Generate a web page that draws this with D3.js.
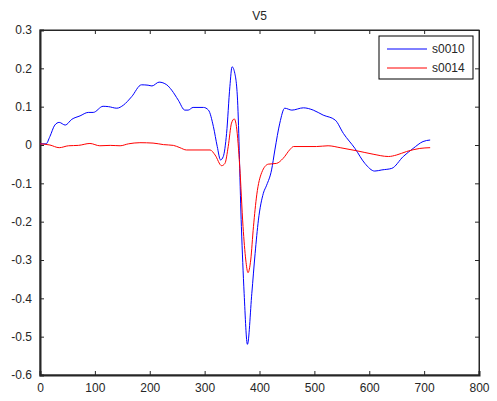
<!DOCTYPE html>
<html>
<head>
<meta charset="utf-8">
<script src="https://cdn.jsdelivr.net/npm/d3@7"></script>
<style>
  body { margin: 0; background: #fff; }
  text { font-family: "Liberation Sans", Arial, sans-serif; font-size: 12px; fill: #262626; }
</style>
</head>
<body>
<script>
// V5 lead, two records
var title = "V5";
var seriesNames = ["s0010", "s0014"];
var seriesColors = ["#0000ff", "#ff0000"];

var xTicks = [0, 100, 200, 300, 400, 500, 600, 700, 800];
var yTicks = [-0.6, -0.5, -0.4, -0.3, -0.2, -0.1, 0, 0.1, 0.2, 0.3];
var yTickLabels = ["-0.6", "-0.5", "-0.4", "-0.3", "-0.2", "-0.1", "0", "0.1", "0.2", "0.3"];

var s0010X = [0, 11, 18, 27, 35, 46, 58, 73, 88, 97, 115, 125, 140, 152, 167, 185, 197, 204, 217, 231,
  240, 252, 264, 270, 279, 298, 307, 316, 323, 329, 334, 340, 346, 350, 355, 360, 367, 372, 378,
  386, 392, 398, 407, 413, 422, 428, 437, 446, 459, 480, 498, 516, 538, 553, 574, 592, 610, 623,
  641, 662, 680, 698, 711];
var s0010Y = [0.003, 0.003, 0.022, 0.052, 0.059, 0.052, 0.067, 0.076, 0.085, 0.085, 0.101, 0.100, 0.096, 0.104,
  0.126, 0.157, 0.156, 0.154, 0.164, 0.157, 0.143, 0.117, 0.091, 0.091, 0.098, 0.098, 0.091, 0.048,
  -0.004, -0.039, -0.030, 0.030, 0.152, 0.204, 0.187, 0.117, -0.213, -0.387, -0.520, -0.387, -0.283,
  -0.196, -0.126, -0.105, -0.065, -0.013, 0.057, 0.096, 0.091, 0.097, 0.091, 0.078, 0.065, 0.030,
  -0.009, -0.048, -0.068, -0.065, -0.061, -0.030, -0.009, 0.009, 0.013];

var s0014X = [0, 18, 35, 52, 70, 91, 109, 128, 146, 161, 182, 206, 225, 243, 255, 267, 310, 319, 331, 337,
  343, 349, 354, 358, 364, 370, 375, 379, 384, 389, 395, 404, 416, 431, 443, 456, 462, 504, 525,
  547, 577, 607, 635, 650, 668, 692, 711];
var s0014Y = [0.003, 0.000, -0.007, -0.002, -0.001, 0.004, -0.002, -0.001, -0.002, 0.003, 0.006, 0.005, 0.001,
  -0.001, -0.007, -0.013, -0.013, -0.026, -0.054, -0.048, -0.004, 0.057, 0.068, 0.048, -0.057, -0.213,
  -0.300, -0.333, -0.300, -0.213, -0.130, -0.072, -0.050, -0.048, -0.035, -0.011, -0.004, -0.004,
  -0.002, -0.007, -0.015, -0.024, -0.030, -0.026, -0.017, -0.009, -0.007];

var width = 497, height = 401;
var margin = {top: 30, right: 18, bottom: 26, left: 40};
var w = width - margin.left - margin.right,
    h = height - margin.top - margin.bottom;

var svg = d3.select("body").append("svg")
    .attr("width", width)
    .attr("height", height);

var g = svg.append("g")
    .attr("transform", "translate(" + margin.left + "," + margin.top + ")");

var x = d3.scaleLinear().domain([0, 800]).range([0, w]);
var y = d3.scaleLinear().domain([-0.6, 0.3]).range([h, 0]);

// frame
g.append("rect")
    .attr("x", 0).attr("y", 0).attr("width", w).attr("height", h)
    .attr("fill", "#fff").attr("stroke", "#262626").attr("stroke-width", 1);

// axes, ticks inward like matlab
var xAxis = d3.axisBottom(x).tickValues(xTicks).tickSize(-4).tickPadding(8).tickFormat(d3.format("d"));
var yAxis = d3.axisLeft(y).tickValues(yTicks).tickSize(-4).tickPadding(8)
    .tickFormat(function(d, i) { return yTickLabels[i]; });

var gx = g.append("g").attr("transform", "translate(0," + h + ")").call(xAxis);
var gy = g.append("g").call(yAxis);
g.append("g").call(d3.axisTop(x).tickValues(xTicks).tickSize(-4).tickFormat(""));
g.append("g").attr("transform", "translate(" + w + ",0)")
    .call(d3.axisRight(y).tickValues(yTicks).tickSize(-4).tickFormat(""));

g.selectAll(".domain").attr("stroke", "#262626");
g.selectAll(".tick line").attr("stroke", "#262626");
gx.select(".domain").attr("stroke-width", 2);
gy.select(".domain").attr("stroke-width", 2);
g.selectAll(".tick text")
    .style("font-family", "'Liberation Sans', Arial, sans-serif")
    .style("font-size", "12px")
    .attr("fill", "#262626");

// lines
var line = d3.line()
    .x(function(d) { return x(d[0]); })
    .y(function(d) { return y(d[1]); })
    .curve(d3.curveMonotoneX);

var series = [
  s0010X.map(function(v, i) { return [v, s0010Y[i]]; }),
  s0014X.map(function(v, i) { return [v, s0014Y[i]]; })
];

g.selectAll(".series")
    .data(series)
  .enter().append("path")
    .attr("class", "series")
    .attr("fill", "none")
    .attr("stroke", function(d, i) { return seriesColors[i]; })
    .attr("stroke-width", 1)
    .attr("d", line);

// title
svg.append("text")
    .attr("x", margin.left + w / 2)
    .attr("y", 20)
    .attr("text-anchor", "middle")
    .text(title);

// legend
var leg = g.append("g").attr("transform", "translate(" + (w - 100) + ",6)");
leg.append("rect")
    .attr("x", 0).attr("y", 0).attr("width", 94).attr("height", 43)
    .attr("fill", "#fff").attr("stroke", "#000").attr("stroke-width", 1);
var items = leg.selectAll(".item").data(seriesNames)
  .enter().append("g")
    .attr("transform", function(d, i) { return "translate(0," + (13 + i * 19) + ")"; });
items.append("line")
    .attr("x1", 8).attr("x2", 48).attr("y1", 0).attr("y2", 0)
    .attr("stroke", function(d, i) { return seriesColors[i]; });
items.append("text")
    .attr("x", 53).attr("y", 4)
    .text(function(d) { return d; });
</script>
</body>
</html>
